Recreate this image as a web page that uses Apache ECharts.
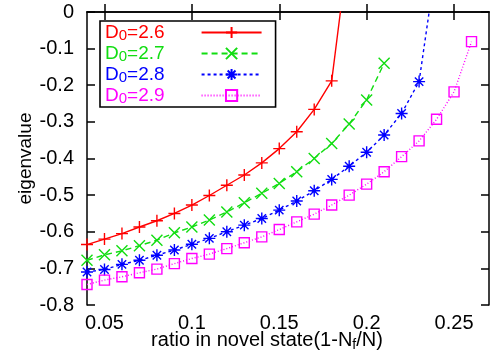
<!DOCTYPE html>
<html>
<head>
<meta charset="utf-8">
<script src="https://cdn.jsdelivr.net/npm/echarts@6/dist/echarts.min.js"></script>
<style>
  html, body { margin: 0; padding: 0; background: #fff; }
  #main { width: 490px; height: 360px; }
</style>
</head>
<body>
<div id="main"></div>
<script>
// x positions (ratio in novel state)
var ratio = [0.04, 0.05, 0.06, 0.07, 0.08, 0.09, 0.10, 0.11, 0.12, 0.13, 0.14, 0.15,
             0.16, 0.17, 0.18, 0.19, 0.20, 0.21, 0.22, 0.23, 0.24, 0.25, 0.26];

// eigenvalues, one list per D0 (last value of 2.6 and 2.8 lies above 0 and gets clipped)
var d26 = [-0.635, -0.620, -0.605, -0.587, -0.570, -0.550, -0.527, -0.501, -0.473, -0.445,
           -0.412, -0.373, -0.327, -0.266, -0.188, 0.19];
var d27 = [-0.678, -0.663, -0.652, -0.638, -0.623, -0.603, -0.587, -0.568, -0.546, -0.521,
           -0.495, -0.468, -0.436, -0.400, -0.359, -0.306, -0.240, -0.140];
var d28 = [-0.710, -0.703, -0.689, -0.678, -0.664, -0.650, -0.634, -0.618, -0.600, -0.582,
           -0.564, -0.541, -0.516, -0.488, -0.457, -0.421, -0.383, -0.336, -0.277, -0.190, 0.14];
var d29 = [-0.744, -0.732, -0.723, -0.712, -0.702, -0.687, -0.673, -0.661, -0.646, -0.630,
           -0.614, -0.594, -0.573, -0.552, -0.527, -0.500, -0.470, -0.436, -0.395, -0.352,
           -0.293, -0.218, -0.081];

var names = ['2.6', '2.7', '2.8', '2.9'];
var colors = ['#ff0000', '#11dd11', '#0000ff', '#ff00ff'];
var xTicks = [0.05, 0.1, 0.15, 0.2, 0.25];

function pairs(vals) {
  var out = [];
  for (var i = 0; i < vals.length; i++) out.push([ratio[i], vals[i]]);
  return out;
}

var FONT = 'Liberation Sans';
var plus = 'path://M0,5L10,5M5,0L5,10';
var cross = 'path://M0,0L10,10M10,0L0,10';
var star = 'path://M0,5L10,5M5,0L5,10M1.5,1.5L8.5,8.5M8.5,1.5L1.5,8.5';

function mkSeries(idx, vals, symbol, size, lineType, fill) {
  return {
    name: names[idx],
    type: 'line',
    data: pairs(vals),
    symbol: symbol,
    symbolSize: size,
    clip: true,
    lineStyle: { color: colors[idx], width: 1.4, type: lineType },
    itemStyle: { color: fill, borderColor: colors[idx], borderWidth: 1.4 }
  };
}

var chart = echarts.init(document.getElementById('main'));

var option = {
  animation: false,
  grid: { left: 87, right: 1, top: 12, bottom: 55, outerBoundsMode: 'none' },
  legend: {
    left: 100, top: 21,
    orient: 'vertical',
    align: 'right',
    itemWidth: 60, itemHeight: 14,
    itemGap: 0,
    padding: [1, 13, 1, 5],
    borderColor: '#000', borderWidth: 1.6,
    data: names.map(function (n, i) {
      return { name: n, textStyle: { color: colors[i] } };
    }),
    formatter: function (n) { return '{m|D}{s|0}{m|=' + n + '}{w|}'; },
    textStyle: {
      fontFamily: FONT, fontSize: 19,
      rich: {
        m: { fontFamily: FONT, fontSize: 19, lineHeight: 19 },
        s: { fontFamily: FONT, fontSize: 15, lineHeight: 15, padding: [6, 0, 0, 0] },
        w: { width: 32, lineHeight: 19 }
      }
    }
  },
  xAxis: [{
    type: 'value', min: 0.04, max: 0.27, position: 'bottom',
    name: '{a|ratio in novel state(1-N}{b|f}{a|/N)}',
    nameLocation: 'middle', nameGap: 24, nameMoveOverlap: false,
    nameTextStyle: {
      padding: [0, 42, 0, 0],
      rich: {
        a: { fontFamily: FONT, fontSize: 20, color: '#000' },
        b: { fontFamily: FONT, fontSize: 14, color: '#000', padding: [9, 0, 0, 0] }
      }
    },
    splitLine: { show: false },
    axisLine: { lineStyle: { color: '#000', width: 1.5 } },
    axisTick: { inside: true, length: 8, customValues: xTicks, lineStyle: { color: '#000', width: 1.5 } },
    axisLabel: { customValues: xTicks, fontFamily: FONT, fontSize: 20, color: '#000', margin: 8 }
  }, {
    type: 'value', min: 0.04, max: 0.27, position: 'top',
    splitLine: { show: false },
    axisLine: { lineStyle: { color: '#000', width: 1.5 } },
    axisTick: { inside: true, length: 8, customValues: xTicks, lineStyle: { color: '#000', width: 1.5 } },
    axisLabel: { show: false }
  }],
  yAxis: [{
    type: 'value', min: -0.8, max: 0, interval: 0.1, position: 'left',
    name: 'eigenvalue', nameLocation: 'middle', nameGap: 52, nameMoveOverlap: false,
    nameTextStyle: { fontFamily: FONT, fontSize: 19, color: '#000' },
    splitLine: { show: false },
    axisLine: { show: true, lineStyle: { color: '#000', width: 1.5 } },
    axisTick: { show: true, inside: true, length: 8, lineStyle: { color: '#000', width: 1.5 } },
    axisLabel: {
      fontFamily: FONT, fontSize: 20, color: '#000', margin: 13,
      formatter: function (v) { return Math.abs(v) < 1e-9 ? '0' : v.toFixed(1); }
    }
  }, {
    type: 'value', min: -0.8, max: 0, interval: 0.1, position: 'right',
    splitLine: { show: false },
    axisLine: { show: true, lineStyle: { color: '#000', width: 1.5 } },
    axisTick: { show: true, inside: true, length: 8, lineStyle: { color: '#000', width: 1.5 } },
    axisLabel: { show: false }
  }],
  series: [
    mkSeries(0, d26, plus, 12, 'solid', colors[0]),
    mkSeries(1, d27, cross, 11, [6, 4], colors[1]),
    mkSeries(2, d28, star, 12, [3, 3], colors[2]),
    mkSeries(3, d29, 'rect', 10, [1, 2], 'rgba(255,255,255,0)')
  ]
};

chart.setOption(option);
</script>
</body>
</html>
